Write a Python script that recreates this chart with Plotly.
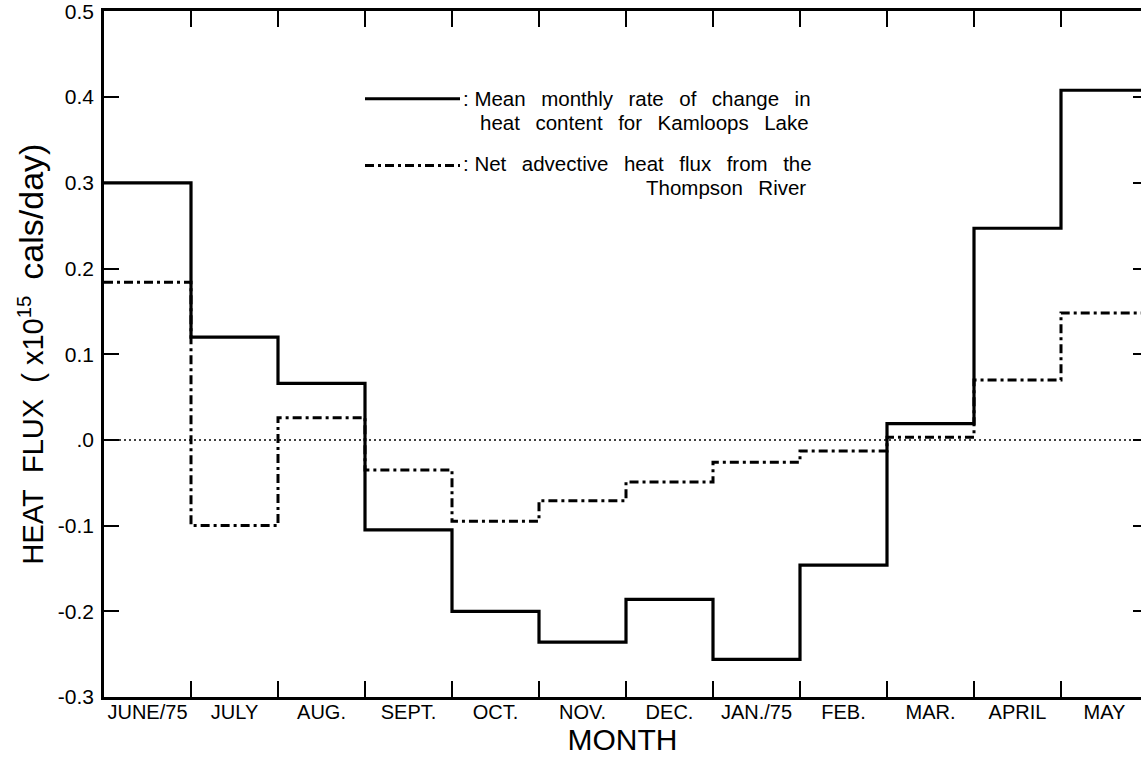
import plotly.graph_objects as go

# ---------------- data ----------------
months = ["JUNE/75", "JULY", "AUG.", "SEPT.", "OCT.", "NOV.", "DEC.",
          "JAN./75", "FEB.", "MAR.", "APRIL", "MAY"]
lake_heat_change = [0.300, 0.120, 0.066, -0.105, -0.200, -0.236, -0.186,
                    -0.256, -0.146, 0.019, 0.247, 0.408]
river_advective = [0.184, -0.100, 0.026, -0.035, -0.095, -0.071, -0.049,
                   -0.026, -0.013, 0.003, 0.070, 0.148]
ytick_vals = [0.5, 0.4, 0.3, 0.2, 0.1, 0.0, -0.1, -0.2, -0.3]
ytick_text = ["0.5", "0.4", "0.3", "0.2", "0.1", ".0", "-0.1", "-0.2", "-0.3"]
zero_level = [0.0, 0.0]

FONT = "Liberation Sans, Arial, Helvetica, sans-serif"
W, H = 1141, 757
ML, MR, MT, MB = 104, 0, 9, 60
PW, PH = W - ML - MR, H - MT - MB
month_px = 87.0
x_max = PW / month_px
y_range = [-0.3, 0.5005]

edges = list(range(len(months) + 1))
centers = [i + 0.5 for i in range(len(months))]


def px(xp):
    return (xp - ML) / PW


def py(yp):
    return (H - MB - yp) / PH


fig = go.Figure()
fig.add_trace(go.Scatter(
    x=edges, y=lake_heat_change + [lake_heat_change[-1]],
    mode="lines", line=dict(color="black", width=3.2, shape="hv"),
    xaxis="x", yaxis="y", showlegend=False, hoverinfo="skip"))
fig.add_trace(go.Scatter(
    x=edges, y=river_advective + [river_advective[-1]],
    mode="lines", line=dict(color="black", width=3, shape="hv",
                            dash="9px,4px,3px,4px"),
    xaxis="x2", yaxis="y", showlegend=False, hoverinfo="skip"))
fig.add_trace(go.Scatter(
    x=[edges[0], edges[-1]], y=zero_level,
    mode="lines", line=dict(color="black", width=1.5, dash="2px,3px"),
    xaxis="x", yaxis="y2", showlegend=False, hoverinfo="skip"))

# legend samples
fig.add_shape(type="line", xref="paper", yref="paper",
              x0=px(365), x1=px(460), y0=py(97), y1=py(97),
              line=dict(color="black", width=3.2))
fig.add_shape(type="line", xref="paper", yref="paper",
              x0=px(365), x1=px(460), y0=py(164), y1=py(164),
              line=dict(color="black", width=3, dash="9px,4px,3px,4px"))

sp = " \u00a0\u2009"
leg_lines = [
    (462, 97, "left", ":\u00a0" + sp.join(["Mean", "monthly", "rate", "of", "change", "in"])),
    (479, 121, "left", sp.join(["heat", "content", "for", "Kamloops", "Lake"])),
    (462, 162, "left", ":\u00a0" + sp.join(["Net", "advective", "heat", "flux", "from", "the"])),
    (807, 186, "right", sp.join(["Thompson", "River"])),
]
for xp, yp, anc, txt in leg_lines:
    fig.add_annotation(xref="paper", yref="paper", x=px(xp), y=py(yp),
                       xanchor=anc, yanchor="middle", text=txt,
                       showarrow=False, borderpad=0,
                       font=dict(family=FONT, size=20.5, color="black"))

y_title = ("HEAT\u00a0 FLUX\u00a0 (\u00a0x10<sup>15</sup>\u00a0 "
           "<span style='font-size:34px'>cals/day)</span>")

fig.update_layout(
    width=W, height=H,
    margin=dict(l=ML, r=MR, t=MT, b=MB, pad=0),
    paper_bgcolor="white", plot_bgcolor="white",
    font=dict(family=FONT, color="black"),
    xaxis=dict(range=[0, x_max], tickmode="array", tickvals=centers,
               ticktext=months, ticks="", showline=False, showgrid=False,
               zeroline=False, tickfont=dict(size=20), ticklabelstandoff=1,
               title=dict(text="MONTH", font=dict(size=30), standoff=4),
               fixedrange=True),
    xaxis2=dict(range=[0, x_max], overlaying="x", anchor="y", side="bottom",
                tickmode="array", tickvals=edges, ticks="inside", ticklen=16,
                tickwidth=1.5, tickcolor="black", showline=True,
                linecolor="black", linewidth=2.5, mirror="ticks",
                showticklabels=False, showgrid=False, zeroline=False),
    yaxis=dict(range=y_range, tickmode="array", tickvals=ytick_vals,
               ticktext=ytick_text, ticks="inside", ticklen=15,
               tickwidth=1.5, tickcolor="black", showline=True,
               linecolor="black", linewidth=2.5, showgrid=False,
               zeroline=False, tickfont=dict(size=21), ticklabelstandoff=3,
               ticklabeloverflow="allow",
               title=dict(text=y_title, font=dict(size=29), standoff=6)),
    yaxis2=dict(range=y_range, overlaying="y", anchor="x", side="right",
                tickmode="array", tickvals=ytick_vals, ticks="inside",
                ticklen=8, tickwidth=1.5, tickcolor="black", showline=False,
                showticklabels=False, showgrid=False, zeroline=False),
)

fig.write_html("out.html")
